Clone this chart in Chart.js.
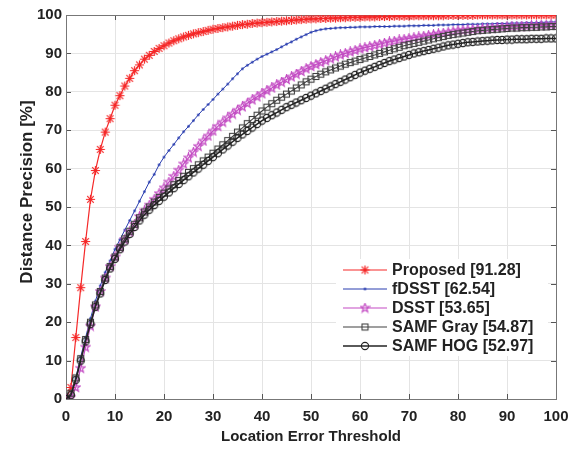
<!DOCTYPE html>
<html>
<head>
<meta charset="utf-8">
<script src="https://cdn.jsdelivr.net/npm/chart.js@4/dist/chart.umd.min.js"></script>
<style>
  html, body { margin: 0; padding: 0; background: #fff; }
  #canvas { display: block; }
</style>
</head>
<body>
<canvas id="canvas" width="586" height="449"></canvas>
<script>
const thresholds = [
  0, 1, 2, 3, 4, 5, 6, 7, 8, 9,
  10, 11, 12, 13, 14, 15, 16, 17, 18, 19,
  20, 21, 22, 23, 24, 25, 26, 27, 28, 29,
  30, 31, 32, 33, 34, 35, 36, 37, 38, 39,
  40, 41, 42, 43, 44, 45, 46, 47, 48, 49,
  50, 51, 52, 53, 54, 55, 56, 57, 58, 59,
  60, 61, 62, 63, 64, 65, 66, 67, 68, 69,
  70, 71, 72, 73, 74, 75, 76, 77, 78, 79,
  80, 81, 82, 83, 84, 85, 86, 87, 88, 89,
  90, 91, 92, 93, 94, 95, 96, 97, 98, 99,
  100
]

const proposed = [
  0, 3, 16, 29, 41, 52, 59.5, 65, 69.5, 73,
  76.5, 79, 81.5, 83.5, 85.5, 87, 88.5, 89.5, 90.5, 91.3,
  92, 92.7, 93.3, 93.8, 94.3, 94.7, 95.1, 95.4, 95.7, 96,
  96.3, 96.5, 96.7, 96.9, 97.1, 97.3, 97.5, 97.6, 97.8, 97.9,
  98, 98.1, 98.2, 98.3, 98.4, 98.5, 98.6, 98.7, 98.8, 98.9,
  99, 99, 99.1, 99.1, 99.2, 99.2, 99.3, 99.3, 99.4, 99.4,
  99.4, 99.5, 99.5, 99.5, 99.6, 99.6, 99.6, 99.7, 99.7, 99.7,
  99.7, 99.8, 99.8, 99.8, 99.8, 99.8, 99.8, 99.8, 99.9, 99.9,
  99.9, 99.9, 99.9, 99.9, 100, 100, 100, 100, 100, 100,
  100, 100, 100, 100, 100, 100, 100, 100, 100, 100,
  100
]

const fdsst = [
  0, 1, 5.5, 11, 16, 21, 25.5, 29.5, 33, 36,
  39, 41.5, 44, 46.5, 49, 51.5, 54, 56.5, 58.5, 61,
  63, 64.7, 66.3, 68, 69.6, 71, 72.5, 74, 75.4, 76.7,
  78, 79.4, 80.7, 82, 83.4, 84.7, 86, 86.9, 87.7, 88.5,
  89.2, 89.8, 90.4, 91, 91.7, 92.4, 93, 93.7, 94.3, 94.9,
  95.5, 95.9, 96.2, 96.4, 96.5, 96.6, 96.7, 96.7, 96.8, 96.8,
  96.9, 96.9, 96.9, 97, 97, 97, 97, 97.1, 97.1, 97.1,
  97.2, 97.2, 97.2, 97.3, 97.3, 97.3, 97.4, 97.4, 97.4, 97.5,
  97.5, 97.5, 97.6, 97.6, 97.6, 97.7, 97.7, 97.7, 97.8, 97.8,
  97.8, 97.9, 97.9, 97.9, 98, 98, 98, 98.1, 98.1, 98.2,
  98.2
]

const dsst = [
  0, 0.5, 3, 8, 13.5, 19, 24, 28, 31.5, 34.5,
  37, 39.5, 41.5, 43.5, 45.5, 47.5, 49, 50.5, 52, 53.5,
  55, 56.5, 58, 59.6, 61.2, 62.8, 64.3, 65.8, 67.2, 68.5,
  69.8, 71, 72.1, 73.2, 74.2, 75.2, 76.1, 77, 77.9, 78.7,
  79.5, 80.3, 81, 81.8, 82.5, 83.2, 83.9, 84.6, 85.3, 86,
  86.6, 87.1, 87.6, 88.1, 88.6, 89.1, 89.6, 90, 90.4, 90.8,
  91.2, 91.5, 91.8, 92.1, 92.4, 92.7, 93, 93.2, 93.5, 93.7,
  93.9, 94.1, 94.3, 94.5, 94.7, 94.9, 95.1, 95.3, 95.5, 95.7,
  95.9, 96, 96.1, 96.2, 96.3, 96.4, 96.5, 96.6, 96.7, 96.8,
  96.9, 97, 97, 97.1, 97.1, 97.2, 97.2, 97.3, 97.3, 97.4,
  97.4
]

const samfGray = [
  0, 1.5, 5.5, 10.5, 15.5, 20, 24.5, 28, 31.5, 34.5,
  37, 39.5, 41.7, 43.7, 45.5, 47.2, 48.7, 50, 51.3, 52.5,
  53.6, 54.7, 55.8, 56.9, 58, 59, 60, 61, 62, 63,
  64, 65.1, 66.2, 67.3, 68.4, 69.5, 70.6, 71.7, 72.8, 73.9,
  75, 76, 76.9, 77.8, 78.6, 79.4, 80.2, 81, 81.8, 82.6,
  83.3, 84, 84.6, 85.2, 85.7, 86.2, 86.7, 87.2, 87.6, 88,
  88.4, 88.8, 89.2, 89.6, 90, 90.4, 90.8, 91.2, 91.6, 92,
  92.3, 92.6, 92.9, 93.2, 93.5, 93.8, 94.1, 94.4, 94.7, 94.9,
  95.1, 95.3, 95.5, 95.7, 95.9, 96, 96.1, 96.2, 96.3, 96.4,
  96.5, 96.6, 96.6, 96.7, 96.7, 96.8, 96.8, 96.9, 96.9, 97,
  97
]

const samfHog = [
  0, 1, 5, 10, 15, 19.5, 24, 27.5, 31, 34,
  36.5, 39, 41, 43, 44.8, 46.5, 48, 49.3, 50.5, 51.6,
  52.7, 53.8, 54.9, 56, 57, 58, 59, 60, 61, 62,
  63, 64, 65, 66, 67, 68, 68.9, 69.8, 70.7, 71.6,
  72.5, 73.2, 73.9, 74.6, 75.3, 76, 76.6, 77.2, 77.8, 78.4,
  79, 79.6, 80.2, 80.8, 81.4, 82, 82.6, 83.2, 83.8, 84.4,
  85, 85.5, 86, 86.5, 87, 87.5, 88, 88.4, 88.8, 89.2,
  89.6, 90, 90.3, 90.6, 90.9, 91.2, 91.5, 91.8, 92.1, 92.3,
  92.5, 92.7, 92.9, 93, 93.1, 93.2, 93.3, 93.4, 93.5, 93.5,
  93.6, 93.6, 93.7, 93.7, 93.7, 93.8, 93.8, 93.8, 93.9, 93.9,
  93.9
]

const seriesNames = ["Proposed [91.28]", "fDSST [62.54]", "DSST [53.65]", "SAMF Gray [54.87]", "SAMF HOG [52.97]"]
const tickValues = [0, 10, 20, 30, 40, 50, 60, 70, 80, 90, 100]

const FONT = "'Liberation Sans', Arial, sans-serif"

// small canvases used as point styles (and reused in the legend)
function marker(size, draw) {
  const c = document.createElement("canvas")
  c.width = size
  c.height = size
  const g = c.getContext("2d")
  draw(g, size / 2)
  return c
}

const asterisk = marker(11, (g, m) => {
  g.strokeStyle = "rgb(245,40,40)"
  g.lineWidth = 1.2
  g.beginPath()
  g.moveTo(m - 4.6, m); g.lineTo(m + 4.6, m)
  g.moveTo(m, m - 4.6); g.lineTo(m, m + 4.6)
  g.moveTo(m - 3.3, m - 3.3); g.lineTo(m + 3.3, m + 3.3)
  g.moveTo(m - 3.3, m + 3.3); g.lineTo(m + 3.3, m - 3.3)
  g.stroke()
})

const dot = marker(5, (g, m) => {
  g.fillStyle = "rgb(40,60,175)"
  g.beginPath()
  g.arc(m, m, 1.3, 0, Math.PI * 2)
  g.fill()
})

const pentagram = marker(11, (g, m) => {
  g.strokeStyle = "rgb(195,75,195)"
  g.lineWidth = 1.2
  g.beginPath()
  for (let i = 0; i < 10; i++) {
    const r = i % 2 ? 1.9 : 4.6
    const a = -Math.PI / 2 + i * Math.PI / 5
    g.lineTo(m + r * Math.cos(a), m + r * Math.sin(a))
  }
  g.closePath()
  g.stroke()
})

const square = marker(9, (g, m) => {
  g.strokeStyle = "rgb(65,65,65)"
  g.lineWidth = 1.1
  g.strokeRect(m - 3, m - 3, 6, 6)
})

const ring = marker(10, (g, m) => {
  g.strokeStyle = "rgb(35,35,35)"
  g.lineWidth = 1.1
  g.beginPath()
  g.arc(m, m, 3.6, 0, Math.PI * 2)
  g.stroke()
})

const styles = [
  { color: "rgb(245,40,40)", width: 1.2, point: asterisk, order: 5 },
  { color: "rgb(40,60,175)", width: 1, point: dot, order: 4 },
  { color: "rgb(195,75,195)", width: 1.2, point: pentagram, order: 3 },
  { color: "rgb(65,65,65)", width: 1.1, point: square, order: 2 },
  { color: "rgb(35,35,35)", width: 1.5, point: ring, order: 1 }
]

const values = [proposed, fdsst, dsst, samfGray, samfHog]

const datasets = values.map((vals, i) => ({
  label: seriesNames[i],
  data: thresholds.map((t, k) => ({ x: t, y: vals[k] })),
  borderColor: styles[i].color,
  borderWidth: styles[i].width,
  pointStyle: styles[i].point,
  pointRadius: 3,
  order: styles[i].order,
  tension: 0,
  fill: false
}))

// box around the axes with inward ticks, like the original figure
const frame = {
  id: "frame",
  beforeDatasetsDraw(chart) {
    const { ctx, chartArea: a, scales } = chart
    ctx.save()
    ctx.strokeStyle = "#555"
    ctx.lineWidth = 1
    ctx.beginPath()
    for (const v of tickValues) {
      const x = Math.round(scales.x.getPixelForValue(v)) + 0.5
      ctx.moveTo(x, a.bottom); ctx.lineTo(x, a.bottom - 5)
      ctx.moveTo(x, a.top); ctx.lineTo(x, a.top + 5)
      const y = Math.round(scales.y.getPixelForValue(v)) + 0.5
      ctx.moveTo(a.left, y); ctx.lineTo(a.left + 5, y)
      ctx.moveTo(a.right, y); ctx.lineTo(a.right - 5, y)
    }
    ctx.stroke()
    ctx.strokeStyle = "#777"
    ctx.strokeRect(Math.round(a.left) + 0.5, Math.round(a.top) + 0.5,
      Math.round(a.right - a.left), Math.round(a.bottom - a.top))
    ctx.restore()
  }
}

const legendBox = {
  id: "legendBox",
  afterDraw(chart) {
    const { ctx, chartArea: a } = chart
    const left = a.right - 220
    const top = a.bottom - 140
    ctx.save()
    ctx.fillStyle = "#fff"
    ctx.fillRect(left, top, 212, 97)
    ctx.font = "bold 16px " + FONT
    ctx.textBaseline = "middle"
    seriesNames.forEach((name, i) => {
      const y = top + 11 + i * 19
      ctx.strokeStyle = styles[i].color
      ctx.lineWidth = styles[i].width
      ctx.beginPath()
      ctx.moveTo(left + 7, y)
      ctx.lineTo(left + 51, y)
      ctx.stroke()
      const p = styles[i].point
      ctx.drawImage(p, left + 29 - p.width / 2, y - p.height / 2)
      ctx.fillStyle = "#222"
      ctx.fillText(name, left + 56, y + 1)
    })
    ctx.restore()
  }
}

// y title drawn by hand: in the figure it sits a little above the axis centre
const yTitle = {
  id: "yTitle",
  afterDraw(chart) {
    const { ctx } = chart
    ctx.save()
    ctx.translate(27, 192)
    ctx.rotate(-Math.PI / 2)
    ctx.font = "bold 17px " + FONT
    ctx.fillStyle = "#222"
    ctx.textAlign = "center"
    ctx.textBaseline = "middle"
    ctx.fillText("Distance Precision [%]", 0, 0)
    ctx.restore()
  }
}

const tickFont = { family: FONT, size: 15, weight: "bold" }

new Chart(document.getElementById("canvas"), {
  type: "line",
  data: { datasets },
  options: {
    responsive: false,
    animation: false,
    devicePixelRatio: 1,
    layout: { padding: { top: 15, right: 30, left: 0, bottom: 0 } },
    plugins: {
      legend: { display: false },
      tooltip: { enabled: false }
    },
    scales: {
      x: {
        type: "linear",
        min: 0,
        max: 100,
        afterFit: s => { s.height = 50 },
        afterBuildTicks: s => { s.ticks = tickValues.map(v => ({ value: v })) },
        ticks: { color: "#222", font: tickFont, padding: 9, maxRotation: 0 },
        grid: { color: "#e4e4e4", drawTicks: false },
        border: { color: "#555" },
        title: {
          display: true,
          text: "Location Error Threshold",
          color: "#222",
          font: { family: FONT, size: 15, weight: "bold" },
          padding: { top: 0, bottom: 3 }
        }
      },
      y: {
        type: "linear",
        min: 0,
        max: 100,
        afterFit: s => { s.width = 66 },
        afterBuildTicks: s => { s.ticks = tickValues.map(v => ({ value: v })) },
        ticks: { color: "#222", font: tickFont, padding: 4 },
        grid: { color: "#e4e4e4", drawTicks: false },
        border: { color: "#555" }
      }
    }
  },
  plugins: [frame, legendBox, yTitle]
})
</script>
</body>
</html>
